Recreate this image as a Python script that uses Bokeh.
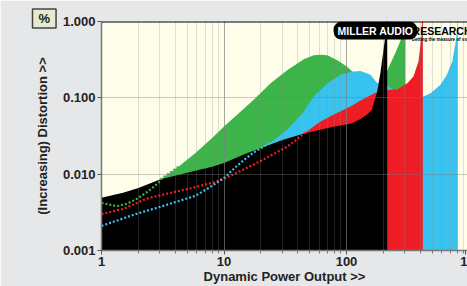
import numpy as np
from bokeh.plotting import figure
from bokeh.models import Range1d, PrintfTickFormatter, Label, Span, FixedTicker, LogTicker
from bokeh.embed import file_html
from bokeh.resources import INLINE

# ---- data (power in W, distortion in %) ----
black_w = [1, 1.5, 2, 3, 5, 8, 10, 15, 20, 30, 45, 60, 80, 110, 130, 150, 161, 178, 189, 199, 207, 213, 215]
black_thd = [0.0049, 0.0057, 0.0066, 0.0085, 0.0104, 0.0125, 0.0140, 0.0185, 0.022, 0.028, 0.034, 0.038,
             0.042, 0.046, 0.053, 0.062, 0.07, 0.12, 0.21, 0.39, 0.63, 1.5, 3.0]

red_w = [1, 1.5, 2.36, 3.5, 5.5, 8.2, 10, 17.4, 33, 46, 60, 78, 108, 130, 150, 180, 215, 261, 315, 352, 387, 410, 420]
red_thd = [0.0030, 0.0035, 0.0048, 0.0056, 0.0066, 0.0078, 0.0087, 0.0133, 0.023, 0.035, 0.048, 0.06,
           0.077, 0.092, 0.104, 0.12, 0.127, 0.13, 0.157, 0.19, 0.30, 0.67, 3.0]

cyan_w = [1, 1.9, 3.3, 5.85, 7.5, 10, 12.8, 14.9, 17.5, 24, 32.7, 44.8, 54, 69.8, 89.5, 110, 130, 157, 178,
          200, 216, 230, 260, 300, 425, 485, 585, 660, 730, 778, 803, 808]
cyan_thd = [0.0021, 0.0030, 0.0039, 0.0052, 0.0066, 0.0089, 0.0129, 0.0158, 0.0193, 0.026, 0.038, 0.066,
            0.104, 0.155, 0.2, 0.22, 0.225, 0.2, 0.157, 0.145, 0.145, 0.135, 0.12, 0.11, 0.104, 0.115,
            0.148, 0.2, 0.3, 0.54, 0.82, 3.0]

green_w = [1, 1.34, 1.62, 1.96, 2.42, 2.92, 3.05, 4.27, 5.85, 8, 10.3, 12.8, 17.4, 24, 33, 44.8, 54, 61,
           69.8, 84, 100, 114, 130, 150, 178, 200, 216, 251, 292, 303]
green_thd = [0.0042, 0.0038, 0.0041, 0.0048, 0.006, 0.0077, 0.0086, 0.0126, 0.019, 0.0297, 0.044, 0.06,
             0.094, 0.155, 0.232, 0.32, 0.36, 0.366, 0.36, 0.31, 0.26, 0.215, 0.19, 0.17, 0.15, 0.18,
             0.232, 0.39, 0.7, 3.0]

x_ticks = [1, 10, 100]
x_edge_tick = 940          # where the cut-off "1000" label shows at the right edge
x_edge_label = "1"
y_ticks = [0.001, 0.01, 0.1, 1.0]

GREEN, CYAN, RED, BLACK = "#3db449", "#38c3ef", "#ee1c25", "#000000"
FONT = "Liberation Sans"
FLOOR = 0.0005

p = figure(width=467, height=286, x_axis_type="log", y_axis_type="log",
           x_range=Range1d(1, 972), y_range=Range1d(0.001, 1.0),
           output_backend="svg", toolbar_location=None,
           min_border_left=101, min_border_right=0, min_border_top=21, min_border_bottom=35)
p.background_fill_color = "#fdfde9"
p.border_fill_color = "#e6e7e9"
p.outline_line_color = None


def fill(xs, ys, color):
    xs = list(xs) + [xs[-1], xs[0]]
    ys = list(ys) + [FLOOR, FLOOR]
    p.patch(xs, ys, fill_color=color, line_color=None)


fill(green_w, green_thd, GREEN)
fill(cyan_w, cyan_thd, CYAN)
fill(red_w, red_thd, RED)
fill(black_w, black_thd, BLACK)


def hidden_part(xs, ys):
    xs = np.array(xs, float)
    ys = np.array(ys, float)
    bl = np.interp(np.log10(xs), np.log10(black_w), np.log10(black_thd))
    under = np.log10(ys) <= bl + 0.005
    n = 0
    while n < len(xs) and under[n]:
        n += 1
    n = min(n + 1, len(xs))
    return xs[:n], ys[:n]


for xs, ys, c in [(green_w, green_thd, GREEN), (red_w, red_thd, RED), (cyan_w, cyan_thd, CYAN)]:
    hx, hy = hidden_part(xs, ys)
    p.line(hx, hy, line_color=c, line_width=2.2, line_dash="2 2")

# grids drawn over the fills
p.xgrid.ticker = LogTicker(num_minor_ticks=10)
p.xgrid.level = "guide"
p.ygrid.level = "guide"
p.xgrid.grid_line_color = "#777777"
p.xgrid.grid_line_alpha = 0.4
p.xgrid.minor_grid_line_color = "#888888"
p.xgrid.minor_grid_line_alpha = 0.25
p.ygrid.grid_line_color = "#777777"
p.ygrid.grid_line_alpha = 0.4

p.add_layout(Span(location=1.0, dimension="width", line_color="black", line_width=2))

# axes
for ax in (p.xaxis[0], p.yaxis[0]):
    ax.axis_line_color = "#777777"
    ax.axis_line_width = 1.5
    ax.major_tick_line_color = "#555555"
    ax.minor_tick_line_color = "#777777"
    ax.major_tick_in = 0
    ax.minor_tick_in = 0
    ax.major_tick_out = 4
    ax.minor_tick_out = 3
    ax.major_label_text_font = FONT
    ax.major_label_text_font_style = "bold"
    ax.major_label_text_font_size = "13px"
    ax.major_label_text_color = "#222222"
    ax.axis_label_text_font = FONT
    ax.axis_label_text_font_style = "bold"
    ax.axis_label_text_font_size = "13px"
    ax.axis_label_text_color = "#222222"

minor_x = [m * 10 ** e for e in range(3) for m in range(2, 10)]
p.xaxis.ticker = FixedTicker(ticks=x_ticks + [x_edge_tick], minor_ticks=minor_x)
p.xaxis.major_label_overrides = {x_edge_tick: x_edge_label}
p.yaxis.ticker = y_ticks
p.yaxis[0].ticker.num_minor_ticks = 10
p.xaxis.formatter = PrintfTickFormatter(format="%d")
p.yaxis.formatter = PrintfTickFormatter(format="%.3f")
p.xaxis.axis_label = "Dynamic Power Output >>"
p.yaxis.axis_label = "(Increasing) Distortion >>"
p.xaxis.major_label_standoff = 2
p.xaxis.axis_label_standoff = 0
p.yaxis.major_label_standoff = 2
p.yaxis.axis_label_standoff = 10

# "%" button in the top-left corner, as the plot title
p.title.text = "%"
p.title.align = "left"
p.title.offset = -69
try:
    p.title.standoff = -13
except Exception:
    p.title.standoff = 0
p.title.text_font = FONT
p.title.text_font_style = "bold"
p.title.text_font_size = "13px"
p.title.text_color = "#222222"
p.title.background_fill_color = "#e6ebcf"
p.title.border_line_color = "#444444"
p.title.border_line_width = 1.5
p.title.padding = (6, 2)

# logo
p.add_layout(Label(x=172.5, y=0.76, text="MILLER AUDIO", text_font=FONT, text_font_style="bold",
                   text_font_size="10.5px", text_color="white", text_align="center", text_baseline="middle",
                   background_fill_color="black", border_radius=8, padding=(4, 3)))
p.add_layout(Label(x=346, y=0.751, text="RESEARCH", text_font=FONT, text_font_style="bold",
                   text_font_size="10.5px", text_color="black", text_align="left", text_baseline="middle"))
p.add_layout(Label(x=340, y=0.582, text="Getting the measure of sound quality", text_font=FONT,
                   text_font_style="bold", text_font_size="4.5px", text_color="black",
                   text_align="left", text_baseline="middle"))

open("out.html", "w").write(file_html(p, INLINE))
